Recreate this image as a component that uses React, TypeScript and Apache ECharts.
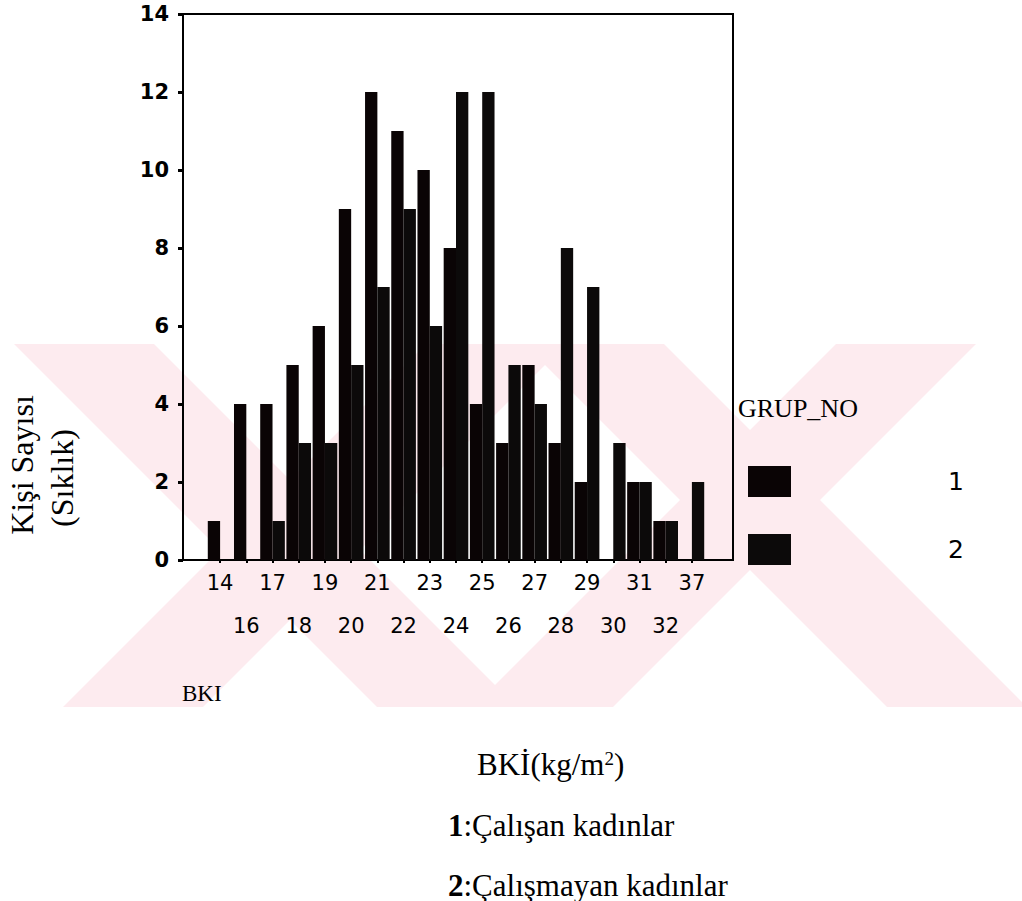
import React, { useEffect, useRef } from "react";
import * as echarts from "echarts";

// BKİ categories (x axis) and counts per group
const categories = ["14", "16", "17", "18", "19", "20", "21", "22", "23", "24", "25", "26", "27", "28", "29", "30", "31", "32", "37"];
const group1 = [1, 4, 4, 5, 6, 9, 12, 11, 10, 8, 4, 3, 5, 3, 2, 0, 2, 1, 0];
const group2 = [0, 0, 1, 3, 3, 5, 7, 9, 6, 12, 12, 5, 4, 8, 7, 3, 2, 1, 2];
const seriesNames = ["1", "2"];
const yMin = 0;
const yMax = 14;
const yStep = 2;

const SERIF = "'Liberation Serif', 'Times New Roman', serif";
const SANS = "'DejaVu Sans', Verdana, sans-serif";

// background watermark: an "X" shape clipped to a horizontal band
function xShape(cx: number, cy: number, top: number, bottom: number, t: number): number[][] {
  const hu = cy - top;
  const hd = bottom - cy;
  return [
    [cx - hu - t, top],
    [cx - hu + t, top],
    [cx, cy - t],
    [cx + hu - t, top],
    [cx + hu + t, top],
    [cx + t, cy],
    [cx + hd + t, bottom],
    [cx + hd - t, bottom],
    [cx, cy + t],
    [cx - hd + t, bottom],
    [cx - hd - t, bottom],
    [cx - t, cy],
  ];
}

export default function App() {
  const ref = useRef<HTMLDivElement>(null);

  useEffect(() => {
    if (!ref.current) return;
    const chart = echarts.init(ref.current, null, { renderer: "svg" });

    const wmFill = "#fdebef";
    const wm = [xShape(290, 550, 344, 707, 70), xShape(750, 500, 344, 707, 70)].map((pts) => ({
      type: "polygon",
      z: -10,
      silent: true,
      shape: { points: pts },
      style: { fill: wmFill },
    }));

    const option: any = {
      animation: false,
      backgroundColor: "#ffffff",
      grid: [
        { left: 183, top: 14, width: 550, height: 546, show: true, borderColor: "#000", borderWidth: 2, backgroundColor: "transparent" },
        { left: 207, top: 14, width: 498, height: 546 },
      ],
      xAxis: [
        { gridIndex: 0, type: "value", min: 0, max: 1, show: false },
        {
          gridIndex: 1,
          type: "category",
          data: categories,
          axisLine: { show: false },
          axisTick: { show: true, alignWithLabel: true, length: 3, lineStyle: { color: "#000", width: 2 } },
          axisLabel: {
            interval: 0,
            color: "#000",
            fontFamily: SANS,
            fontSize: 21,
            margin: 12,
            lineHeight: 21.5,
            formatter: (v: string, i: number) => (i % 2 === 1 ? "\n\n" + v : v),
          },
        },
      ],
      yAxis: [
        {
          gridIndex: 0,
          type: "value",
          min: yMin,
          max: yMax,
          interval: yStep,
          axisLine: { show: true, lineStyle: { color: "#000", width: 2 } },
          axisTick: { show: true, length: 5, lineStyle: { color: "#000", width: 3 } },
          axisLabel: { color: "#000", fontFamily: SANS, fontSize: 21, fontWeight: "bold", margin: 14 },
          splitLine: { show: false },
        },
        { gridIndex: 1, type: "value", min: yMin, max: yMax, show: false },
      ],
      legend: {
        data: seriesNames,
        orient: "vertical",
        left: 743,
        top: 461,
        itemWidth: 43,
        itemHeight: 31,
        itemGap: 37,
        icon: "rect",
        selectedMode: false,
        textStyle: { color: "#000", fontFamily: SANS, fontSize: 25, padding: [0, 0, 0, 152] },
      },
      series: [
        {
          name: seriesNames[0],
          type: "bar",
          xAxisIndex: 1,
          yAxisIndex: 1,
          data: group1,
          barGap: "0%",
          barCategoryGap: "6%",
          itemStyle: { color: "#0a0405" },
        },
        {
          name: seriesNames[1],
          type: "bar",
          xAxisIndex: 1,
          yAxisIndex: 1,
          data: group2,
          barGap: "0%",
          barCategoryGap: "6%",
          itemStyle: { color: "#0c0a0a" },
        },
      ],
      graphic: [
        ...wm,
        {
          type: "text",
          x: 22,
          y: 465,
          rotation: Math.PI / 2,
          style: { text: "Kişi Sayısı", fontFamily: SERIF, fontSize: 32, fill: "#000", textAlign: "center", textVerticalAlign: "middle" },
        },
        {
          type: "text",
          x: 62,
          y: 478,
          rotation: Math.PI / 2,
          style: { text: "(Sıklık)", fontFamily: SERIF, fontSize: 32, fill: "#000", textAlign: "center", textVerticalAlign: "middle" },
        },
        {
          type: "text",
          x: 738,
          y: 408,
          style: { text: "GRUP_NO", fontFamily: SERIF, fontSize: 26, fill: "#000", textAlign: "left", textVerticalAlign: "middle" },
        },
        {
          type: "text",
          x: 182,
          y: 693,
          style: { text: "BKI", fontFamily: SERIF, fontSize: 23, fill: "#000", textAlign: "left", textVerticalAlign: "middle" },
        },
        {
          type: "text",
          x: 477,
          y: 764,
          style: {
            text: "BKİ(kg/m{sup|2})",
            fontFamily: SERIF,
            fontSize: 31,
            fill: "#000",
            textAlign: "left",
            textVerticalAlign: "middle",
            rich: { sup: { fontFamily: SERIF, fontSize: 19, fill: "#000", verticalAlign: "top" } },
          },
        },
        {
          type: "text",
          x: 448,
          y: 825,
          style: {
            text: "{b|1}:Çalışan kadınlar",
            fontFamily: SERIF,
            fontSize: 31,
            fill: "#000",
            textAlign: "left",
            textVerticalAlign: "middle",
            rich: { b: { fontFamily: SERIF, fontSize: 31, fontWeight: "bold", fill: "#000" } },
          },
        },
        {
          type: "text",
          x: 448,
          y: 885,
          style: {
            text: "{b|2}:Çalışmayan kadınlar",
            fontFamily: SERIF,
            fontSize: 31,
            fill: "#000",
            textAlign: "left",
            textVerticalAlign: "middle",
            rich: { b: { fontFamily: SERIF, fontSize: 31, fontWeight: "bold", fill: "#000" } },
          },
        },
      ],
    };

    chart.setOption(option);
    return () => chart.dispose();
  }, []);

  return (
    <div
      ref={ref}
      style={{ position: "absolute", left: 0, top: 0, width: 1022, height: 901, background: "#fff" }}
    />
  );
}
